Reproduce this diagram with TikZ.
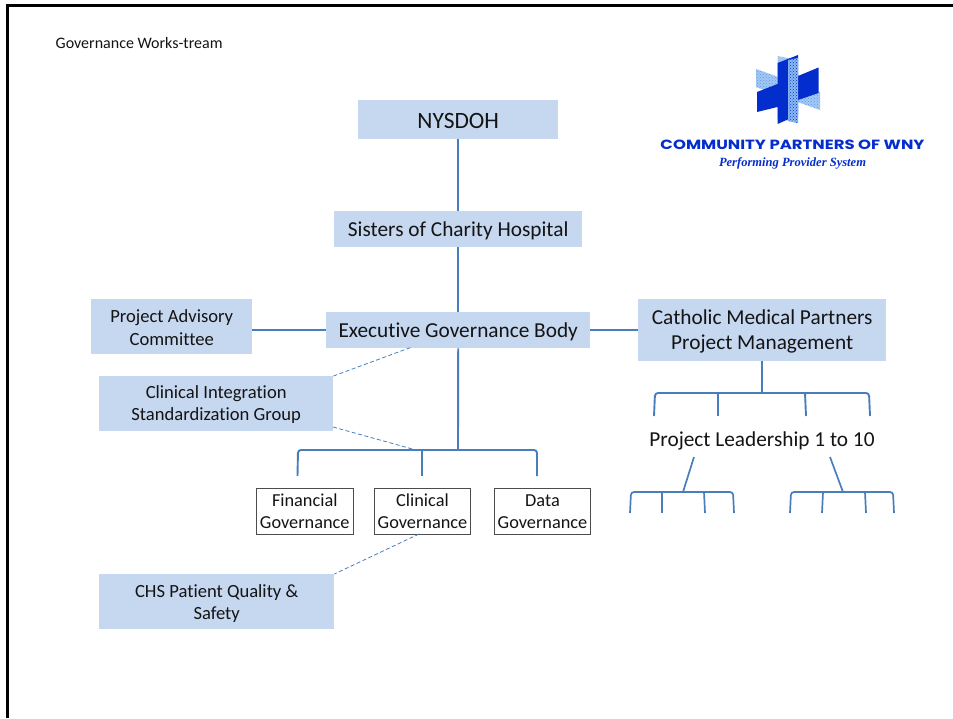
\documentclass[tikz,border=0pt]{standalone}
\usepackage{fontspec}
\setmainfont{Carlito}[Ligatures=NoCommon]
\newfontfamily\logofont{Poppins}
\newfontfamily\logoserif{Liberation Serif}
\usetikzlibrary{patterns}
\definecolor{boxblue}{RGB}{198,215,240}
\definecolor{linkblue}{RGB}{74,126,187}
\definecolor{logoblue}{RGB}{3,46,205}
\definecolor{logolight}{RGB}{90,155,235}
\definecolor{txt}{RGB}{20,20,20}
\tikzset{
  bluebox/.style={fill=boxblue,inner sep=0pt,align=center,text=txt,anchor=north west},
  whitebox/.style={draw=black!70!white,line width=1pt,fill=white,inner sep=0pt,align=center,text=txt,anchor=north west,font=\fontsize{18.3}{22.3}\selectfont},
  small/.style={font=\fontsize{18.6}{22.3}\selectfont},
  large/.style={font=\fontsize{21.3}{25}\selectfont},
  link/.style={draw=linkblue,line width=1.9pt},
  bracket/.style={draw=linkblue,line width=1.9pt,rounded corners=3pt},
  fine/.style={line width=1.7pt},
  dashlink/.style={draw=linkblue,line width=0.8pt,dash pattern=on 4pt off 2.5pt},
}
\newcommand{\dn}[1]{\rule{0pt}{#1}}
\begin{document}
\begin{tikzpicture}[x=1pt,y=-1pt]
\useasboundingbox (0,0) rectangle (953,718);
\fill[white] (0,0) rectangle (953,718);
% frame
\fill[black] (6,4) rectangle (953,7);
\fill[black] (6,4) rectangle (8.5,718);
\node[anchor=west,text=txt,inner sep=0pt,font=\fontsize{16}{19}\selectfont] (title) at (55.5,43) {Governance Works-tream};

% boxes
\node[bluebox,minimum width=200pt,minimum height=39pt,font=\fontsize{23.4}{28}\selectfont,text height=20pt,text depth=2pt] (ny) at (358,100) {NYSDOH};
\node[bluebox,large,minimum width=248pt,minimum height=36pt,text height=18pt,text depth=3pt] (soc) at (334,211) {Sisters of Charity Hospital};
\node[bluebox,large,minimum width=264pt,minimum height=36pt,text height=18pt,text depth=3pt] (exec) at (326,312) {Executive Governance Body};
\node[bluebox,small,minimum width=161pt,minimum height=55pt] (adv) at (91,299) {\dn{15pt}Project Advisory\\Committee};
\node[bluebox,large,minimum width=248pt,minimum height=62pt] (cmp) at (638,299) {\dn{17pt}Catholic Medical Partners\\Project Management};
\node[bluebox,small,minimum width=234pt,minimum height=55pt] (cis) at (99,376) {\dn{15pt}Clinical Integration\\Standardization Group};
\node[bluebox,small,minimum width=235pt,minimum height=55pt] (qual) at (99,574) {\dn{17pt}CHS Patient Quality \&\\Safety};
\node[whitebox,minimum width=96.5pt,minimum height=45.5pt] (fin) at (256,488) {\dn{13pt}Financial\\Governance};
\node[whitebox,minimum width=96pt,minimum height=45.5pt] (cli) at (374,488) {\dn{13pt}Clinical\\Governance};
\node[whitebox,minimum width=96pt,minimum height=45.5pt] (dat) at (494,488) {\dn{13pt}Data\\Governance};
\node[large,inner sep=0pt,text=txt] (lead) at (762,440.5) {Project Leadership 1 to 10};

% solid links
\draw[link] (ny.south) -- (soc.north);
\draw[link] (soc.south) -- (exec.north);
\draw[link] (adv.east) ++(0,3) coordinate (advr) -- (exec.west |- advr);
\draw[link] (exec.east) -- (cmp.west |- exec.east);

% governance bracket
\coordinate (gjoin) at (458,450);
\draw[link] (exec.south) -- (gjoin);
\coordinate (g1) at (297.5,476);
\coordinate (g2) at (422,476);
\coordinate (g3) at (537,476);
\draw[bracket] (g1) -- (298,450) -- (537,450) -- (g3);
\draw[link] (g2) -- (422,450);

% dashed links
\draw[dashlink] (cis.north east) -- (412,347);
\coordinate (cisb) at (333,427);
\coordinate (gd) at (416,450);
\draw[dashlink] (cisb) -- (gd);
\draw[dashlink] (419,534) -- (qual.north east);

% project management bracket
\coordinate (pjoin) at (762,393);
\draw[link] (cmp.south -| pjoin) -- (pjoin);
\draw[bracket] (654,416) -- (655,393) -- (869,393) -- (870,416);
\draw[bracket] (718,416) -- (718,393);
\draw[bracket] (805,393) -- (806,416);

% leadership sub brackets
\coordinate (la) at (694,457);
\coordinate (lb) at (683,492);
\coordinate (ra) at (830,457);
\coordinate (rb) at (843,492);
\draw[link,fine] (la) -- (lb);
\draw[link,fine] (ra) -- (rb);
\draw[bracket,fine] (630,513) -- (631,492) -- (733,492) -- (734,513);
\draw[bracket,fine] (662,513) -- (662,492);
\draw[bracket,fine] (704,492) -- (705,513);
\draw[bracket,fine] (790,513) -- (791,492) -- (893,492) -- (894,513);
\draw[bracket,fine] (822,513) -- (823,492);
\draw[bracket,fine] (865,492) -- (866,513);

% logo
\fill[logolight!55!white] (756,69) -- (820,92) -- (820,110) -- (756,87) -- cycle;
\fill[pattern={crosshatch dots},pattern color=logolight] (756,69) -- (820,92) -- (820,110) -- (756,87) -- cycle;
\fill[logolight!55!white] (777.5,56) -- (798,60) -- (798,123) -- (777.5,118) -- cycle;
\fill[logoblue] (757,92) -- (777.5,84) -- (777.5,63) -- (798,55) -- (798,76) -- (818.5,67.5) -- (818.5,93) -- (798,100) -- (798,115) -- (777.5,124) -- (777.5,107) -- (757,112) -- cycle;
\fill[logolight!70!white] (788,60) -- (798,58) -- (798,123) -- (788,121) -- cycle;
\fill[pattern={crosshatch dots},pattern color=logoblue] (788,60) -- (798,58) -- (798,123) -- (788,121) -- cycle;
\node[inner sep=0pt,text=logoblue] (logoname) at (792.5,144.5) {\resizebox{264pt}{9.5pt}{\logofont\bfseries COMMUNITY PARTNERS OF WNY}};
\node[inner sep=0pt,text=logoblue] (logosub) at (792.5,163.5) {\resizebox{147pt}{!}{\logoserif\bfseries\itshape Performing Provider System}};
\end{tikzpicture}
\end{document}
